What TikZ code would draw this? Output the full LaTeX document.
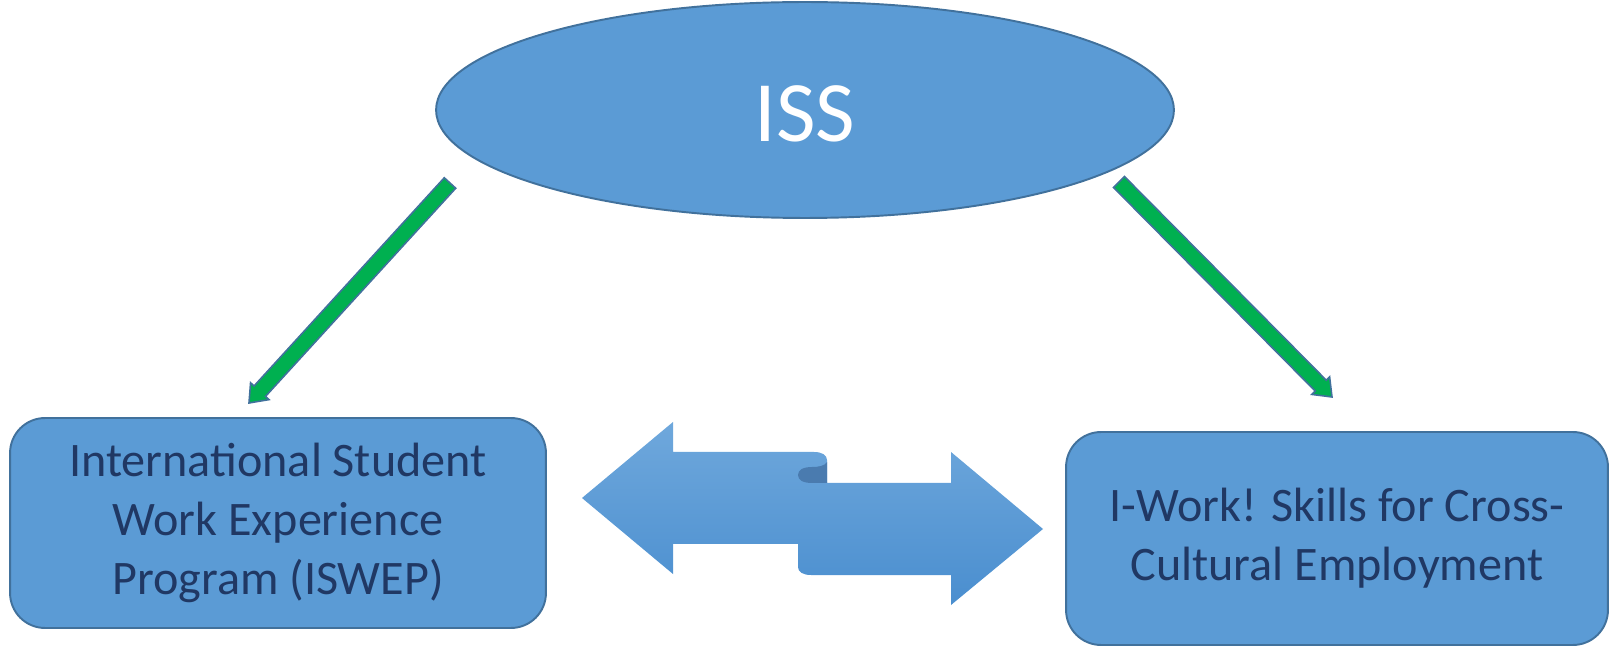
\documentclass[tikz,border=0pt]{standalone}
\usepackage{fontspec}
\setmainfont{Carlito}
\usetikzlibrary{shapes.geometric,calc}
\definecolor{boxblue}{HTML}{5B9BD5}
\definecolor{edgeblue}{HTML}{41719C}
\definecolor{textnavy}{HTML}{203864}
\definecolor{arrowgreen}{HTML}{00B050}
\definecolor{ribbontop}{HTML}{6FA8DC}
\definecolor{ribbonbot}{HTML}{4A8ECF}
\definecolor{curldark}{HTML}{4A7BAF}

% green block arrow from #1 (tail) to #2 (tip)
\newcommand\blockarrow[2]{%
  \filldraw[fill=arrowgreen, draw=edgeblue, line width=0.9pt, line join=miter]
    ($(#1)!0.155cm!90:(#2)$) --
    ($($(#2)!0.32cm!(#1)$)!0.155cm!-90:(#1)$) --
    ($($(#2)!0.32cm!(#1)$)!0.25cm!-90:(#1)$) --
    (#2) --
    ($($(#2)!0.32cm!(#1)$)!0.25cm!90:(#1)$) --
    ($($(#2)!0.32cm!(#1)$)!0.155cm!90:(#1)$) --
    ($(#1)!0.155cm!-90:(#2)$) -- cycle;}

\begin{document}
\begin{tikzpicture}[x=0.02cm, y=-0.02cm,
  boxnode/.style={draw=edgeblue, fill=boxblue, line width=1.1pt, rounded corners=0.7cm,
    text=textnavy, align=center, inner sep=0pt,
    font=\fontsize{27.4}{33.4}\selectfont}]

\useasboundingbox (0,0) rectangle (1610,648);

\node[ellipse, draw=edgeblue, fill=boxblue, line width=1.1pt, inner sep=0pt,
  minimum width=14.76cm, minimum height=4.32cm] (iss) at (805,110) {};
\node[text=white, font=\fontsize{49}{56}\selectfont] (isslabel) at (805,114) {ISS};

\node[boxnode, minimum width=10.72cm, minimum height=4.2cm] (iswep) at (278,523)
  {International Student\\Work Experience\\Program (ISWEP)};
\node[boxnode, minimum width=10.84cm, minimum height=4.26cm] (iwork) at (1337,538.5)
  {I-Work! Skills for Cross-\\Cultural Employment};

\coordinate (issL) at (450,183);
\coordinate (iswepTip) at (249,403);
\coordinate (issR) at (1119,182);
\coordinate (iworkTip) at (1332,397);

\blockarrow{issL}{iswepTip}
\blockarrow{issR}{iworkTip}

% double ribbon arrow between the boxes
\shade[top color=ribbontop, bottom color=ribbonbot]
  (582,498) -- (673,422) -- (673,452) -- (814,452)
  .. controls (822,452) and (827,455) .. (827,460) -- (827,483)
  -- (951,483) -- (951,452) -- (1043,529) -- (951,605) -- (951,575) -- (811,575)
  .. controls (803,575) and (798,572) .. (798,567) -- (798,544)
  -- (673,544) -- (673,574) -- cycle;
\fill[curldark] (827,462) .. controls (825,466) and (818,467) .. (812,467)
  .. controls (803,467) and (798,470) .. (798,475)
  .. controls (798,480) and (803,483) .. (812,483) -- (827,483) -- cycle;

\end{tikzpicture}
\end{document}
